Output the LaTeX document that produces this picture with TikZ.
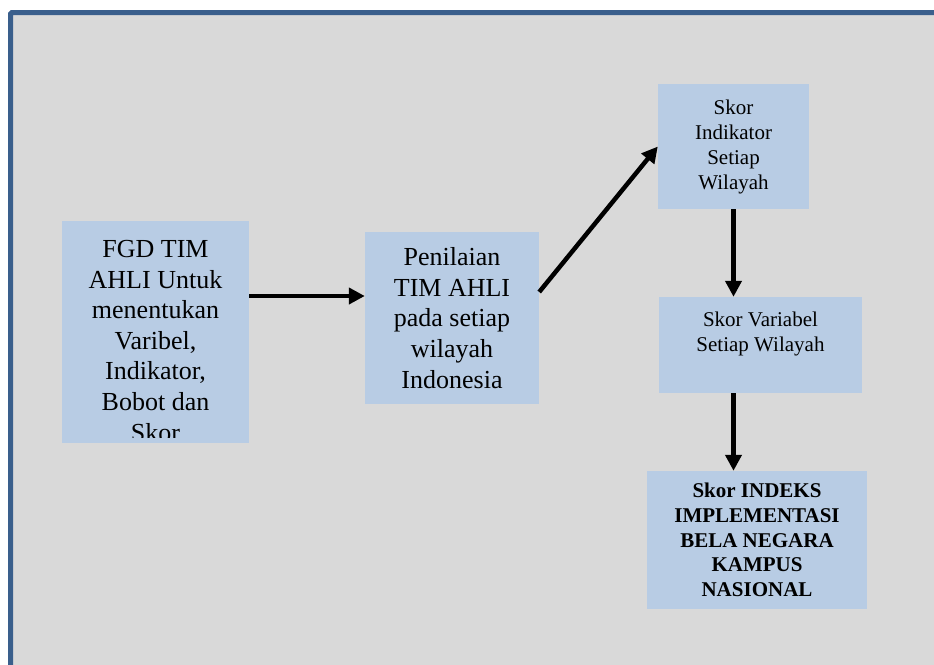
\documentclass[tikz,border=0pt]{standalone}
\usepackage{fontspec}
\setmainfont{Liberation Serif}
\usetikzlibrary{arrows.meta}
\definecolor{framebg}{RGB}{217,217,217}
\definecolor{frameline}{RGB}{58,95,140}
\definecolor{boxfill}{RGB}{184,204,228}
\begin{document}
\begin{tikzpicture}[x=1pt, y=-1pt,
        box/.style={rectangle, fill=boxfill, inner sep=0pt, align=center},
        boxtext/.style={align=center, inner sep=0pt, anchor=north, minimum width=0pt, minimum height=0pt},
        bigtext/.style={font=\fontsize{26}{30.6}\selectfont},
        smalltext/.style={font=\fontsize{21}{25}\selectfont},
        flow/.style={line width=4.5pt, -{Triangle[length=16pt,width=16pt]}}]
    \useasboundingbox (0,0) rectangle (934,664);
    \draw[line width=5pt, frameline, fill=framebg, rounded corners=1.5pt] (10.5,12.5) rectangle (950,680);
    % boxes
    \node[box, minimum width=187pt, minimum height=222pt,
          path picture={\clip ([yshift=6pt]path picture bounding box.south west) rectangle (path picture bounding box.north east);
                        \node[boxtext, font=\fontsize{26}{30.6}\selectfont] (fgdtext) at ([yshift=-19pt]path picture bounding box.north) {FGD TIM\\AHLI Untuk\\menentukan\\Varibel,\\Indikator,\\Bobot dan\\Skor};}] (fgd) at (155.5,332) {};
    \node[box, bigtext, minimum width=174pt, minimum height=172pt] (nilai) at (452,318) {Penilaian\\TIM AHLI\\pada setiap\\wilayah\\Indonesia};
    \node[box, smalltext, minimum width=151pt, minimum height=125pt] (indikator) at (733.5,146.5) {Skor\\Indikator\\Setiap\\Wilayah};
    \node[box, minimum width=203pt, minimum height=96pt,
          path picture={\node[boxtext, smalltext] (vartext) at ([yshift=-15pt]path picture bounding box.north) {Skor Variabel\\Setiap Wilayah};}] (variabel) at (760.5,345) {};
    \node[box, font=\fontsize{21}{24.6}\selectfont\bfseries, minimum width=220pt, minimum height=138pt] (indeks) at (757,540) {Skor INDEKS\\IMPLEMENTASI\\BELA NEGARA\\KAMPUS\\NASIONAL};
    % arrows
    \draw[flow] ([yshift=36pt]fgd.east) -- ([yshift=36pt]fgd.east -| nilai.west);
    \draw[flow] ([yshift=26pt]nilai.east) -- (indikator.west);
    \draw[flow] (indikator.south) -- (indikator.south |- variabel.north);
    \draw[flow] (indikator.south |- variabel.south) -- (indikator.south |- indeks.north);
\end{tikzpicture}
\end{document}
